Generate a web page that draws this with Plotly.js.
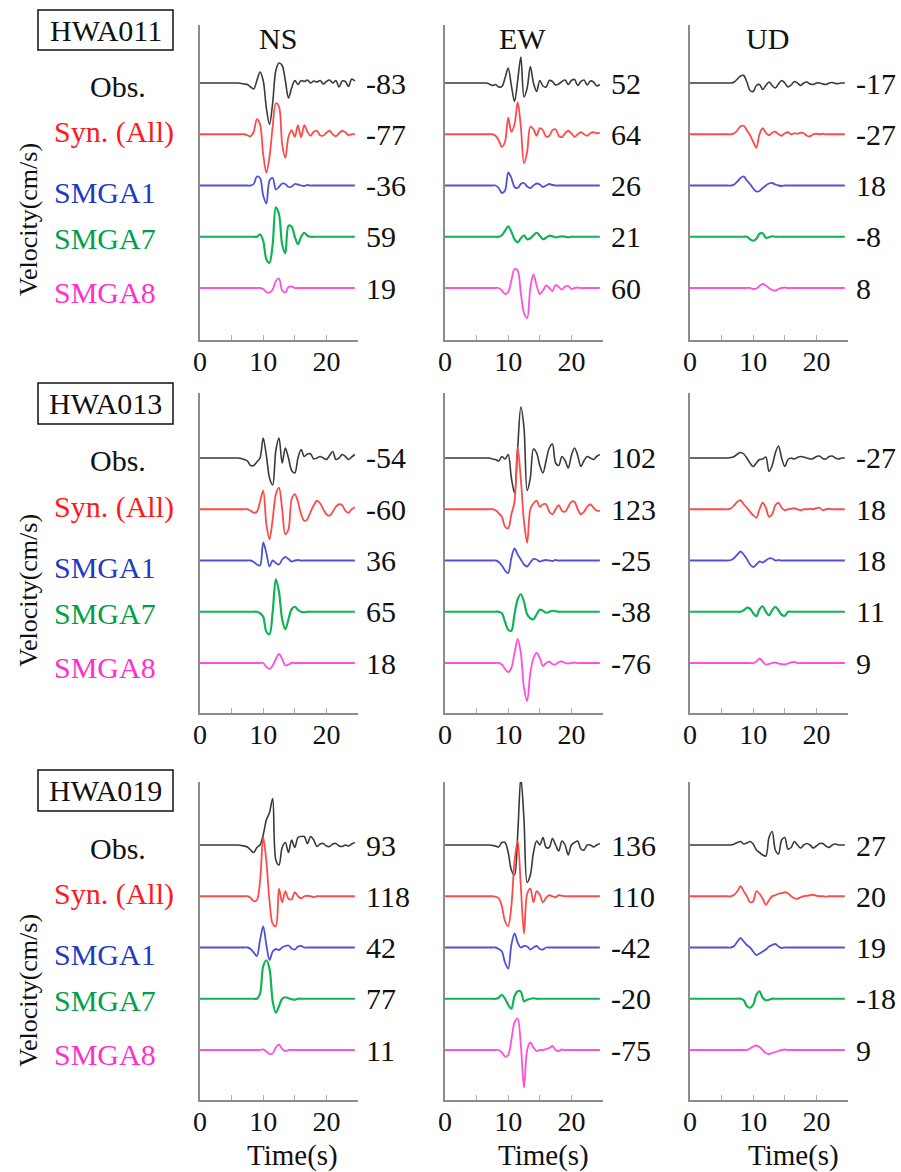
<!DOCTYPE html>
<html>
<head>
<meta charset="utf-8">
<script src="https://cdn.plot.ly/plotly-3.0.1.min.js"></script>
<style>
  html, body { margin: 0; padding: 0; background: #fff; }
  #chart { width: 901px; height: 1172px; }
  #chart text { font-family: "Liberation Serif", "Times New Roman", Tinos, "DejaVu Serif", serif !important; }
</style>
</head>
<body>
<div id="chart"></div>
<script>
// Velocity waveforms (cm/s), sampled every 0.5 s from 0 to 24.5 s.
const TIME = [0,0.5,1,1.5,2,2.5,3,3.5,4,4.5,5,5.5,6,6.5,7,7.5,8,8.5,9,9.5,10,10.5,11,11.5,12,12.5,13,13.5,14,14.5,15,15.5,16,16.5,17,17.5,18,18.5,19,19.5,20,20.5,21,21.5,22,22.5,23,23.5,24,24.5];

const STATIONS = ['HWA011', 'HWA013', 'HWA019'];
const COMPONENTS = ['NS', 'EW', 'UD'];
const SERIES_NAMES = ['Obs.', 'Syn. (All)', 'SMGA1', 'SMGA7', 'SMGA8'];

// ---- HWA011 ----
const HWA011_NS_OBS = [0,0,0,0,0,0,0,0,0,0, 0,0,0,-1,-2,-3,-8,-12,5,22, 5,-50,-83,-40,25,40,35,5,-30,-10, 5,-3,5,3,6,0,4,2,5,-2, 3,6,0,5,-8,4,3,-7,8,4];
const HWA011_NS_SYN = [0,0,0,0,0,0,0,0,0,0, 0,0,0,0,0,-2,-4,5,30,20, -40,-77,-45,15,62,55,-20,-47,-5,8, -5,18,-6,18,5,-3,5,7,-2,-3, 3,7,0,-4,2,7,4,-2,0,0];
const HWA011_NS_S1  = [0,0,0,0,0,0,0,0,0,0, 0,0,0,0,0,0,0,3,18,15, -20,-36,10,15,-8,-3,4,3,-3,-2, 3,2,0,-1,1,0,0,0,0,0, 0,0,0,0,0,0,0,0,0,0];
const HWA011_NS_S7  = [0,0,0,0,0,0,0,0,0,0, 0,0,0,0,0,0,0,0,0,5, -8,-45,-52,-15,59,45,-15,-33,22,20, 0,-15,0,8,2,0,0,0,0,0, 0,0,0,0,0,0,0,0,0,0];
const HWA011_NS_S8  = [0,0,0,0,0,0,0,0,0,0, 0,0,0,0,0,0,0,0,0,0, -2,-8,-9,-3,14,19,-5,-9,2,3, 0,0,0,0,0,0,0,0,0,0, 0,0,0,0,0,0,0,0,0,0];

const HWA011_EW_OBS = [0,0,0,0,0,0,0,0,0,0, 0,0,0,0,-2,-5,-3,-8,-7,10, 30,-5,-37,5,52,-28,-10,33,0,-17, 5,-6,-8,5,3,-4,-2,3,6,-3, 5,7,-5,3,6,-4,4,2,-6,-3];
const HWA011_EW_SYN = [0,0,0,0,0,0,0,0,0,0, 0,0,0,0,0,0,-3,-12,-25,-15, 33,5,20,64,15,-58,-35,15,10,-3, 12,8,-5,-3,8,10,-3,-6,2,7, 2,-5,0,4,0,-3,2,4,2,3];
const HWA011_EW_S1  = [0,0,0,0,0,0,0,0,0,0, 0,0,0,0,0,0,0,-5,-15,-10, 26,15,-3,-5,3,5,-2,-5,0,4, 2,-3,0,3,1,0,0,0,0,0, 0,0,0,0,0,0,0,0,0,0];
const HWA011_EW_S7  = [0,0,0,0,0,0,0,0,0,0, 0,0,0,0,0,0,0,0,3,12, 21,10,-5,-11,-3,3,-5,-3,3,8, 2,-5,-2,2,1,-1,0,1,0,-1, 0,0,0,0,0,0,0,0,0,0];
const HWA011_EW_S8  = [0,0,0,0,0,0,0,0,0,0, 0,0,0,0,0,0,0,0,-5,-12, -8,15,38,35,-10,-50,-60,0,27,5, -12,-5,5,0,-6,6,2,-3,3,4, -2,0,1,0,0,0,0,0,0,0];

const HWA011_UD_OBS = [0,0,0,0,0,0,0,0,0,0, 0,0,0,0,2,8,14,15,2,-15, -17,-5,-3,-13,-5,2,-5,-10,-2,5, 0,-8,-4,3,0,-5,0,2,-2,-3, 0,0,-2,-3,0,1,-1,-1,0,0];
const HWA011_UD_SYN = [0,0,0,0,0,0,0,0,0,0, 0,0,0,0,2,8,16,17,8,-2, -15,-27,0,12,3,-2,3,5,0,-3, 2,4,0,2,1,3,2,-3,-4,0, 1,0,1,0,0,0,0,0,0,0];
const HWA011_UD_S1  = [0,0,0,0,0,0,0,0,0,0, 0,0,0,0,2,8,15,18,10,3, -6,-12,-11,-5,0,4,5,2,0,-1, 0,0,0,0,0,0,0,0,0,0, 0,0,0,0,0,0,0,0,0,0];
const HWA011_UD_S7  = [0,0,0,0,0,0,0,0,0,0, 0,0,0,0,0,0,0,0,0,-5, -8,-4,6,7,-2,-1,1,0,0,0, 0,0,0,0,0,0,0,0,0,0, 0,0,0,0,0,0,0,0,0,0];
const HWA011_UD_S8  = [0,0,0,0,0,0,0,0,0,0, 0,0,0,0,0,0,0,0,0,0, -2,-1,4,8,5,0,-4,-5,-2,0, 1,0,0,0,0,0,0,0,0,0, 0,0,0,0,0,0,0,0,0,0];

// ---- HWA013 ----
const HWA013_NS_OBS = [0,0,0,0,0,0,0,0,0,0, 0,0,0,-1,-3,-6,-15,-15,-8,0, 40,5,-40,-54,15,40,-10,20,0,-25, -30,0,17,3,8,8,-2,0,3,0, -3,5,13,-3,0,7,3,-3,2,7];
const HWA013_NS_SYN = [0,0,0,0,0,0,0,0,0,0, 0,0,0,0,0,0,-3,-7,-5,15, 37,-30,-60,-20,30,43,0,-50,-40,20, 30,15,-10,-23,-20,-5,8,17,12,0, -10,-13,-5,5,10,8,-3,-7,0,4];
const HWA013_NS_S1  = [0,0,0,0,0,0,0,0,0,0, 0,0,0,0,0,0,0,-3,-8,-10, 36,15,-12,0,-5,-8,2,7,3,-2, 0,1,0,0,0,0,0,0,0,0, 0,0,0,0,0,0,0,0,0,0];
const HWA013_NS_S7  = [0,0,0,0,0,0,0,0,0,0, 0,0,0,0,0,0,0,0,0,-3, -10,-40,-45,0,65,40,-15,-35,-15,5, 10,4,0,-1,0,0,0,0,0,0, 0,0,0,0,0,0,0,0,0,0];
const HWA013_NS_S8  = [0,0,0,0,0,0,0,0,0,0, 0,0,0,0,0,0,0,0,0,0, 0,-8,-12,-5,8,18,8,-5,-3,0, 0,0,0,0,0,0,0,0,0,0, 0,0,0,0,0,0,0,0,0,0];

const HWA013_EW_OBS = [0,0,0,0,0,0,0,0,0,0, 0,0,0,0,0,-2,-3,-6,3,-2, 7,-40,-70,20,102,60,-65,-40,18,10, -15,-30,-5,20,28,-10,-15,3,-5,-20, 5,20,5,-17,-5,3,0,-3,3,7];
const HWA013_EW_SYN = [0,0,0,0,0,0,0,0,0,0, 0,0,0,0,0,0,-2,-8,-15,-35, -38,-10,15,123,60,-25,-67,0,12,17, 5,10,10,-5,-10,0,8,-3,-5,5, 15,15,0,-10,-5,5,10,3,-3,-3];
const HWA013_EW_S1  = [0,0,0,0,0,0,0,0,0,0, 0,0,0,0,0,0,0,-3,-10,-20, -25,5,24,12,2,-8,-12,-4,3,2, -2,0,1,0,-1,1,0,0,0,0, 0,0,0,0,0,0,0,0,0,0];
const HWA013_EW_S7  = [0,0,0,0,0,0,0,0,0,0, 0,0,0,0,0,0,0,0,-3,-20, -36,-38,-5,25,35,20,-5,-13,-15,-5, 4,2,-2,0,2,1,0,0,0,0, 0,0,0,0,0,0,0,0,0,0];
const HWA013_EW_S8  = [0,0,0,0,0,0,0,0,0,0, 0,0,0,0,0,0,0,0,-3,-12, -18,-10,20,48,20,-50,-76,-20,10,20, 10,-6,0,3,-2,-3,2,3,0,-1, 0,1,0,0,0,0,0,0,0,0];

const HWA013_UD_OBS = [0,0,0,0,0,0,0,0,0,0, 0,0,0,1,3,8,11,8,0,-10, -17,-10,-3,-2,2,-27,-15,10,24,0, -17,-3,0,-2,1,3,2,0,-2,-1, 3,4,-1,-2,3,4,0,-2,0,0];
const HWA013_UD_SYN = [0,0,0,0,0,0,0,0,0,0, 0,0,0,2,8,15,18,10,3,-5, -12,-17,0,13,3,-15,-10,8,13,3, -2,0,1,2,0,-2,0,0,1,0, 2,3,-2,0,1,0,0,0,0,0];
const HWA013_UD_S1  = [0,0,0,0,0,0,0,0,0,0, 0,0,0,1,5,12,18,12,3,-8, -13,-8,-2,-4,0,4,4,0,1,0, 0,0,0,0,0,0,0,0,0,0, 0,0,0,0,0,0,0,0,0,0];
const HWA013_UD_S7  = [0,0,0,0,0,0,0,0,0,0, 0,0,0,0,0,0,0,3,8,6, -3,-9,5,11,0,-7,3,10,3,-6, -8,0,0,0,0,0,0,0,0,0, 0,0,0,0,0,0,0,0,0,0];
const HWA013_UD_S8  = [0,0,0,0,0,0,0,0,0,0, 0,0,0,0,0,0,0,0,0,0, 0,3,9,3,-3,-2,0,1,-1,-2, -3,-1,1,2,0,0,0,0,0,0, 0,0,0,0,0,0,0,0,0,0];

// ---- HWA019 ----
const HWA019_NS_OBS = [0,0,0,0,0,0,0,0,0,0, 0,0,0,-1,-2,-4,-10,-15,-5,0, 20,50,65,93,-30,-40,-5,5,-15,10, -5,15,17,17,3,17,10,-3,2,3, -2,-3,2,3,-2,-3,0,-2,2,5];
const HWA019_NS_SYN = [0,0,0,0,0,0,0,0,0,0, 0,0,0,0,0,0,-3,-10,-8,30, 118,70,-10,-55,-60,15,-12,10,-5,-6, 8,0,-4,0,1,0,-2,0,0,0, 0,0,0,0,0,0,0,0,0,0];
const HWA019_NS_S1  = [0,0,0,0,0,0,0,0,0,0, 0,0,0,0,0,0,-3,-10,-17,15, 42,5,-25,-8,-3,-5,0,3,4,-2, -4,2,3,0,0,0,0,0,0,0, 0,0,0,0,0,0,0,0,0,0];
const HWA019_NS_S7  = [0,0,0,0,0,0,0,0,0,0, 0,0,0,0,0,0,0,0,0,10, 65,77,60,-5,-28,-15,0,3,1,-1, -2,0,0,0,0,0,0,0,0,0, 0,0,0,0,0,0,0,0,0,0];
const HWA019_NS_S8  = [0,0,0,0,0,0,0,0,0,0, 0,0,0,0,0,0,0,0,0,0, 1,-3,-8,-7,5,11,2,-2,0,0, 0,0,0,0,0,0,0,0,0,0, 0,0,0,0,0,0,0,0,0,0];

const HWA019_EW_OBS = [0,0,0,0,0,0,0,0,0,0, 0,0,0,0,0,-1,-2,-4,5,5, -15,-50,-60,20,136,50,-75,-60,-15,8, 0,15,-5,-5,13,0,-12,8,0,-20, 0,5,8,-8,-10,0,0,-4,0,3];
const HWA019_EW_SYN = [0,0,0,0,0,0,0,0,0,0, 0,0,0,0,0,0,-1,-4,-20,-50, -60,-20,70,110,20,-75,5,15,-12,10, 3,-12,-3,2,0,-2,2,1,0,0, 0,0,0,0,0,0,0,0,0,0];
const HWA019_EW_S1  = [0,0,0,0,0,0,0,0,0,0, 0,0,0,0,0,0,0,-3,-8,-30, -42,5,28,10,0,3,2,-4,0,3, -3,-4,0,0,0,0,0,0,0,0, 0,0,0,0,0,0,0,0,0,0];
const HWA019_EW_S7  = [0,0,0,0,0,0,0,0,0,0, 0,0,0,0,0,0,0,2,8,0, -12,-20,5,15,14,-5,-2,0,1,0, 0,0,0,0,0,0,0,0,0,0, 0,0,0,0,0,0,0,0,0,0];
const HWA019_EW_S8  = [0,0,0,0,0,0,0,0,0,0, 0,0,0,0,0,0,0,0,-5,-13, -10,20,55,63,10,-75,0,15,5,-2, 0,0,2,4,8,0,-2,1,0,0, 0,0,0,0,0,0,0,0,0,0];

const HWA019_UD_OBS = [0,0,0,0,0,0,0,0,0,0, 0,0,0,0,2,5,7,2,4,7, 2,-10,-15,-20,-22,15,27,-10,-18,10, 15,-8,-5,7,0,-6,0,3,0,-6, -2,3,3,-2,-5,0,2,0,0,0];
const HWA019_UD_SYN = [0,0,0,0,0,0,0,0,0,0, 0,0,0,0,3,10,20,10,0,-12, -10,10,5,-5,-17,-8,0,2,5,6, 8,6,0,-4,-5,-2,0,1,2,3, 1,0,0,-1,0,0,0,0,0,0];
const HWA019_UD_S1  = [0,0,0,0,0,0,0,0,0,0, 0,0,0,0,3,12,19,12,5,0, -8,-15,-12,-8,-4,2,5,7,2,-1, 0,0,0,0,0,0,0,0,0,0, 0,0,0,0,0,0,0,0,0,0];
const HWA019_UD_S7  = [0,0,0,0,0,0,0,0,0,0, 0,0,0,0,0,0,0,-3,-15,-18, -12,8,15,2,-3,-2,0,0,0,0, 0,0,0,0,0,0,0,0,0,0, 0,0,0,0,0,0,0,0,0,0];
const HWA019_UD_S8  = [0,0,0,0,0,0,0,0,0,0, 0,0,0,0,0,0,0,0,0,3, 7,9,6,0,-6,-8,-6,-4,-2,0, 1,0,0,0,0,0,0,0,0,0, 0,0,0,0,0,0,0,0,0,0];

// Peak velocities (cm/s) printed next to each trace: Obs, Syn, SMGA1, SMGA7, SMGA8
const PEAK_HWA011_NS = [-83, -77, -36, 59, 19];
const PEAK_HWA011_EW = [52, 64, 26, 21, 60];
const PEAK_HWA011_UD = [-17, -27, 18, -8, 8];
const PEAK_HWA013_NS = [-54, -60, 36, 65, 18];
const PEAK_HWA013_EW = [102, 123, -25, -38, -76];
const PEAK_HWA013_UD = [-27, 18, 18, 11, 9];
const PEAK_HWA019_NS = [93, 118, 42, 77, 11];
const PEAK_HWA019_EW = [136, 110, -42, -20, -75];
const PEAK_HWA019_UD = [27, 20, 19, -18, 9];

const PANELS = [
  [[HWA011_NS_OBS, HWA011_NS_SYN, HWA011_NS_S1, HWA011_NS_S7, HWA011_NS_S8], PEAK_HWA011_NS],
  [[HWA011_EW_OBS, HWA011_EW_SYN, HWA011_EW_S1, HWA011_EW_S7, HWA011_EW_S8], PEAK_HWA011_EW],
  [[HWA011_UD_OBS, HWA011_UD_SYN, HWA011_UD_S1, HWA011_UD_S7, HWA011_UD_S8], PEAK_HWA011_UD],
  [[HWA013_NS_OBS, HWA013_NS_SYN, HWA013_NS_S1, HWA013_NS_S7, HWA013_NS_S8], PEAK_HWA013_NS],
  [[HWA013_EW_OBS, HWA013_EW_SYN, HWA013_EW_S1, HWA013_EW_S7, HWA013_EW_S8], PEAK_HWA013_EW],
  [[HWA013_UD_OBS, HWA013_UD_SYN, HWA013_UD_S1, HWA013_UD_S7, HWA013_UD_S8], PEAK_HWA013_UD],
  [[HWA019_NS_OBS, HWA019_NS_SYN, HWA019_NS_S1, HWA019_NS_S7, HWA019_NS_S8], PEAK_HWA019_NS],
  [[HWA019_EW_OBS, HWA019_EW_SYN, HWA019_EW_S1, HWA019_EW_S7, HWA019_EW_S8], PEAK_HWA019_EW],
  [[HWA019_UD_OBS, HWA019_UD_SYN, HWA019_UD_S1, HWA019_UD_S7, HWA019_UD_S8], PEAK_HWA019_UD]
];

// ---- styling and page geometry (pixels) ----
const W = 901, H = 1172;
const FONT = 'Liberation Serif';
const LINE_COLORS = ['#3a3a3a', '#ff4a4a', '#5050dc', '#10b455', '#ff4fdc'];
const LINE_WIDTHS = [1.6, 1.8, 1.8, 2.2, 1.8];
const TEXT_COLORS = ['#111111', '#ff1a1a', '#1f3ac4', '#00a04a', '#ff30cc'];
const LABEL_SHIFT = [-3, 2, -7, -2, -4];

const COL_LEFT = [200, 445, 690];
const COL_WIDTH = 158;
const ROW_TOP = [25, 393, 782];
const ROW_BOTTOM = [340, 713, 1100];
const OBS_BASE = [83, 458, 845];
const PX_PER_UNIT = 0.5;
const OFFSET = 102.5;           // vertical spacing between stacked traces (cm/s)
const BOX_TOP = [10, 383, 770];
const BOX_BOTTOM = [50, 424, 811];
const BOX_LEFT = 38, BOX_RIGHT = 173;
const VEL_Y = [220, 591, 991];
const TIME_LABEL_X = [292, 543, 793];

const px = v => v / W;
const py = v => 1 - v / H;

const data = [];
const layout = {
  width: W, height: H,
  margin: {l: 0, r: 0, t: 0, b: 0},
  paper_bgcolor: '#ffffff', plot_bgcolor: 'rgba(0,0,0,0)',
  showlegend: false,
  font: {family: FONT, color: '#111'},
  annotations: [],
  shapes: []
};

PANELS.forEach((panel, p) => {
  const r = Math.floor(p / 3), c = p % 3;
  const series = panel[0], peaks = panel[1];
  const xa = p === 0 ? 'x' : 'x' + (p + 1);
  const ya = p === 0 ? 'y' : 'y' + (p + 1);
  const xKey = p === 0 ? 'xaxis' : 'xaxis' + (p + 1);
  const yKey = p === 0 ? 'yaxis' : 'yaxis' + (p + 1);

  series.forEach((vals, k) => {
    data.push({
      type: 'scatter', mode: 'lines',
      x: TIME, y: vals.map(v => v - k * OFFSET),
      xaxis: xa, yaxis: ya,
      line: {color: LINE_COLORS[k], width: LINE_WIDTHS[k], shape: 'spline', smoothing: 0.9},
      hoverinfo: 'skip'
    });
    layout.annotations.push({
      xref: 'paper', yref: ya,
      x: px(COL_LEFT[c] + COL_WIDTH + 6), y: -k * OFFSET,
      xanchor: 'left', yanchor: 'middle', showarrow: false,
      text: String(peaks[k]),
      font: {family: FONT, size: 30, color: '#111'}
    });
  });

  layout[xKey] = {
    domain: [px(COL_LEFT[c]), px(COL_LEFT[c] + COL_WIDTH)],
    range: [0, 25], anchor: ya,
    showgrid: false, zeroline: false,
    showline: true, linecolor: '#8c8c8c', linewidth: 1.6,
    ticks: 'inside', ticklen: 5, tickwidth: 1, tickcolor: '#b0b0b0',
    tickvals: [0, 5, 10, 15, 20, 25],
    ticktext: ['0', '', '10', '', '20', ''],
    tickfont: {family: FONT, size: 28, color: '#111'},
    ticklabelstandoff: -4,
    fixedrange: true
  };
  const top = (OBS_BASE[r] - ROW_TOP[r]) / PX_PER_UNIT;
  const bottom = -(ROW_BOTTOM[r] - OBS_BASE[r]) / PX_PER_UNIT;
  layout[yKey] = {
    domain: [py(ROW_BOTTOM[r]), py(ROW_TOP[r])],
    range: [bottom, top], anchor: xa,
    showgrid: false, zeroline: false,
    showline: true, linecolor: '#8c8c8c', linewidth: 1.6,
    showticklabels: false, ticks: '',
    fixedrange: true
  };

  if (r === 0) {
    layout.annotations.push({
      xref: xa, yref: 'paper', x: 12.3, y: py(38),
      xanchor: 'center', yanchor: 'middle', showarrow: false,
      text: COMPONENTS[c], font: {family: FONT, size: 30, color: '#111'}
    });
  }
  if (r === 2) {
    layout.annotations.push({
      xref: 'paper', yref: 'paper', x: px(TIME_LABEL_X[c]), y: py(1155),
      xanchor: 'center', yanchor: 'middle', showarrow: false,
      text: 'Time(s)', font: {family: FONT, size: 29, color: '#111'}
    });
  }
  if (c === 0) {
    // station name in a box, series names and the axis title on the left of each row
    layout.shapes.push({
      type: 'rect', xref: 'paper', yref: 'paper', layer: 'above',
      x0: px(BOX_LEFT), x1: px(BOX_RIGHT), y0: py(BOX_BOTTOM[r]), y1: py(BOX_TOP[r]),
      line: {color: '#111', width: 1.5}, fillcolor: 'rgba(0,0,0,0)'
    });
    layout.annotations.push({
      xref: 'paper', yref: 'paper',
      x: px((BOX_LEFT + BOX_RIGHT) / 2), y: py((BOX_TOP[r] + BOX_BOTTOM[r]) / 2),
      xanchor: 'center', yanchor: 'middle', showarrow: false,
      text: STATIONS[r], font: {family: FONT, size: 30, color: '#111'}
    });
    layout.annotations.push({
      xref: 'paper', yref: 'paper', x: px(28), y: py(VEL_Y[r]),
      xanchor: 'center', yanchor: 'middle', showarrow: false, textangle: -90,
      text: 'Velocity(cm/s)', font: {family: FONT, size: 26, color: '#111'}
    });
    SERIES_NAMES.forEach((name, k) => {
      const isObs = k === 0;
      layout.annotations.push({
        xref: 'paper', yref: ya,
        x: px(isObs ? 118 : 52), y: -k * OFFSET, yshift: LABEL_SHIFT[k],
        xanchor: isObs ? 'center' : 'left', yanchor: 'middle', showarrow: false,
        text: name, font: {family: FONT, size: 30, color: TEXT_COLORS[k]}
      });
    });
  }
});

Plotly.newPlot('chart', data, layout, {staticPlot: true, displayModeBar: false});
</script>
</body>
</html>
